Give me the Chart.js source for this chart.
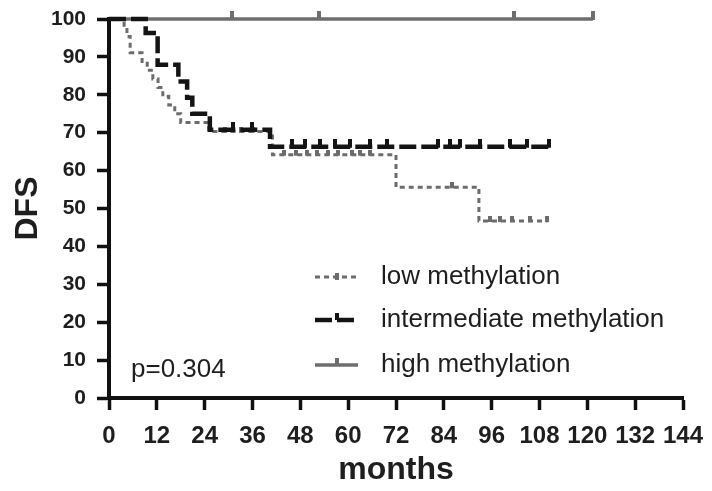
<!DOCTYPE html>
<html>
<head>
<meta charset="utf-8">
<script src="https://cdn.jsdelivr.net/npm/chart.js@4.4.0/dist/chart.umd.min.js"></script>
<style>
  html, body { margin: 0; padding: 0; background: #fff; }
  #wrap { width: 712px; height: 491px; }
</style>
</head>
<body>
<div id="wrap"><canvas id="kmChart" width="712" height="491"></canvas></div>
<script>
// values (months, DFS %), 1 = censored tick
const lowMonths   = [0, 3.8, 4.5, 5.3, 8.3, 9.6, 11, 12.3, 13.5, 15, 16.5, 18, 25, 29, 33, 36, 41, 44, 47, 49.7, 52.2, 55, 57.5, 61, 63, 65.5, 72, 86, 92.8, 95.6, 98, 101, 105.6, 110];
const lowValues   = [100, 97.7, 95.4, 91.1, 88.8, 86.5, 84.2, 81.9, 79.6, 77.3, 75, 72.7, 70.3, 70.3, 70.3, 70.3, 64.2, 64.2, 64.2, 64.2, 64.2, 64.2, 64.2, 64.2, 64.2, 64.2, 55.6, 55.6, 46.7, 46.7, 46.7, 46.7, 46.7, 46.7];
const lowCensor   = [0, 0, 0, 0, 0, 0, 0, 0, 0, 0, 0, 0, 0, 1, 1, 1, 0, 1, 1, 1, 1, 1, 1, 1, 1, 1, 0, 1, 0, 1, 1, 1, 1, 1];

const midMonths   = [0, 9.2, 12.2, 17.4, 19.6, 20.9, 25.3, 31.1, 35.9, 40.4, 45.9, 49.2, 52.9, 56.7, 60.5, 65.5, 69.7, 82.5, 85.5, 88, 93, 100.6, 104.9, 110.5];
const midValues   = [100, 96.3, 87.9, 83.5, 79.2, 75, 70.8, 70.8, 70.8, 66.3, 66.3, 66.3, 66.3, 66.3, 66.3, 66.3, 66.3, 66.3, 66.3, 66.3, 66.3, 66.3, 66.3, 66.3];
const midCensor   = [0, 0, 0, 0, 0, 0, 0, 1, 1, 0, 1, 1, 1, 1, 1, 1, 1, 1, 1, 1, 1, 1, 1, 1];

const highMonths  = [0, 30.9, 52.7, 101.6, 121.4];
const highValues  = [100, 100, 100, 100, 100];
const highCensor  = [0, 1, 1, 1, 1];

const seriesLabels = ['low methylation', 'intermediate methylation', 'high methylation'];
const xTicks = [0, 12, 24, 36, 48, 60, 72, 84, 96, 108, 120, 132, 144];
const yTicks = [0, 10, 20, 30, 40, 50, 60, 70, 80, 90, 100];
const pValue = 'p=0.304';

const font = '"Liberation Sans", Arial, sans-serif';

// small upward tick used as the censor mark
const tickMark = (color, h) => {
  const c = document.createElement('canvas');
  c.width = 4; c.height = h * 2;
  const g = c.getContext('2d');
  g.fillStyle = color;
  g.fillRect(0, 0, 4, h + 1);
  return c;
};

const toPoints = (xs, ys) => xs.map((x, i) => ({ x, y: ys[i] }));

const makeSet = (label, xs, ys, cens, color, width, dash, order, mark) => ({
  label,
  data: toPoints(xs, ys),
  borderColor: color,
  backgroundColor: color,
  borderWidth: width,
  borderDash: dash,
  borderCapStyle: 'butt',
  stepped: true,
  fill: false,
  clip: false,
  order,
  pointStyle: mark,
  pointRadius: cens.map(c => c ? 5 : 0),
  pointHoverRadius: 0
});

const lowColor = '#6c6c6c';
const midColor = '#141414';
const highColor = '#6e6e6e';

const datasets = [
  makeSet(seriesLabels[0], lowMonths, lowValues, lowCensor, lowColor, 3, [5, 4], 1, tickMark(lowColor, 5)),
  makeSet(seriesLabels[1], midMonths, midValues, midCensor, midColor, 4.5, [17, 5], 0, tickMark(midColor, 8)),
  makeSet(seriesLabels[2], highMonths, highValues, highCensor, highColor, 3.5, [], 2, tickMark(highColor, 8))
];

const insideLegend = {
  id: 'insideLegend',
  afterDraw(chart) {
    const ctx = chart.ctx;
    const rows = [277, 320, 365];
    ctx.save();
    chart.data.datasets.forEach((ds, i) => {
      const y = rows[i];
      ctx.strokeStyle = ds.borderColor;
      ctx.lineWidth = ds.borderWidth;
      ctx.setLineDash(ds.borderDash);
      ctx.beginPath();
      ctx.moveTo(315, y);
      ctx.lineTo(358, y);
      ctx.stroke();
      ctx.setLineDash([]);
      ctx.fillStyle = ds.borderColor;
      ctx.fillRect(335, y - (i === 0 ? 4 : 7), 4, 7);
      ctx.fillStyle = '#1e1e1e';
      ctx.font = '26px ' + font;
      ctx.textBaseline = 'middle';
      ctx.fillText(ds.label, 381, y);
    });
    ctx.fillText(pValue, 131, 370);
    ctx.restore();
  }
};

new Chart(document.getElementById('kmChart').getContext('2d'), {
  type: 'line',
  data: { datasets },
  options: {
    responsive: false,
    animation: false,
    layout: { padding: 0 },
    plugins: { legend: { display: false }, tooltip: { enabled: false } },
    scales: {
      x: {
        type: 'linear',
        min: 0, max: 144,
        afterBuildTicks: s => { s.ticks = xTicks.map(v => ({ value: v })); },
        afterFit: s => { s.height = 93; s.paddingLeft = 0; s.paddingRight = 29; },
        ticks: { autoSkip: false, maxRotation: 0, padding: 12, color: '#1e1e1e', font: { family: font, size: 24, weight: 'bold' } },
        grid: { drawOnChartArea: false, tickLength: 12, tickWidth: 3.5, tickColor: '#111' },
        border: { width: 4, color: '#111' },
        title: { display: true, text: 'months', color: '#1e1e1e', font: { family: font, size: 32, weight: 'bold' }, padding: { top: 0, bottom: 2 } }
      },
      y: {
        min: 0, max: 100,
        afterBuildTicks: s => { s.ticks = yTicks.map(v => ({ value: v })); },
        afterFit: s => { s.width = 109; s.paddingTop = 19; s.paddingBottom = 0; },
        ticks: { padding: 11, color: '#1e1e1e', font: { family: font, size: 21, weight: 'bold' } },
        grid: { drawOnChartArea: false, tickLength: 12, tickWidth: 3.5, tickColor: '#111' },
        border: { width: 4, color: '#111' },
        title: { display: true, text: 'DFS', color: '#1e1e1e', font: { family: font, size: 32, weight: 'bold' }, padding: { top: 9, bottom: 0 } }
      }
    }
  },
  plugins: [insideLegend]
});
</script>
</body>
</html>
